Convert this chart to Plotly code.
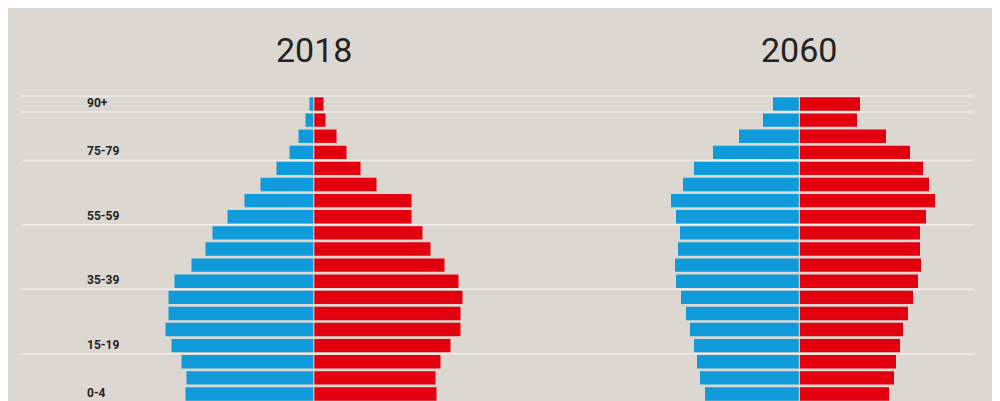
import plotly.graph_objects as go

# Age groups, bottom to top
ages = ["0-4", "5-9", "10-14", "15-19", "20-24", "25-29", "30-34", "35-39", "40-44",
        "45-49", "50-54", "55-59", "60-64", "65-69", "70-74", "75-79", "80-84", "85-89", "90+"]
labeled_ages = ["0-4", "15-19", "35-39", "55-59", "75-79", "90+"]
years = ["2018", "2060"]

# Values read top (90+) to bottom (0-4), then reversed to match ages
male_2018 = [4, 8, 15, 24, 37, 53, 69, 86, 101, 108, 122, 139, 145, 145, 148, 142, 132, 127, 128][::-1]
female_2018 = [10, 12, 23, 33, 47, 63, 98, 98, 109, 117, 131, 145, 149, 147, 147, 137, 127, 122, 123][::-1]
male_2060 = [26, 36, 60, 86, 105, 116, 128, 123, 119, 121, 124, 123, 118, 113, 109, 105, 102, 99, 94][::-1]
female_2060 = [61, 58, 87, 111, 124, 130, 136, 127, 121, 121, 122, 119, 114, 109, 104, 101, 97, 95, 90][::-1]

BLUE = "#0f9ad9"
RED = "#e2000f"
BG = "#dcd8d1"
GRID = "#f1eee8"

W, H = 1000, 393  # page body has an 8px margin; extra width is clipped at the window edge

fig = go.Figure()
for xa, m, f in [("x", male_2018, female_2018), ("x2", male_2060, female_2060)]:
    fig.add_trace(go.Bar(y=ages, x=[-v for v in m], orientation="h", marker_color=BLUE,
                         marker_line_width=0, xaxis=xa, yaxis="y", showlegend=False))
    fig.add_trace(go.Bar(y=ages, x=f, orientation="h", marker_color=RED,
                         marker_line_width=0, xaxis=xa, yaxis="y", showlegend=False))

shapes = []
grid_pos = [ages.index(lab) - 0.5 for lab in labeled_ages if lab != "0-4"] + [len(ages) - 0.5]
for yv in grid_pos:
    shapes.append(dict(type="line", xref="paper", yref="y", x0=14 / W, x1=966 / W, y0=yv, y1=yv,
                       line=dict(color=GRID, width=1.5), layer="below"))
for xa in ["x", "x2"]:
    shapes.append(dict(type="line", xref=xa, yref="y", x0=0.3, x1=0.3, y0=-0.45, y1=18.45,
                       line=dict(color="#f0dcdc", width=1), layer="above"))

annotations = []
for lab in labeled_ages:
    annotations.append(dict(text=lab, xref="paper", yref="y", x=77 / W, y=ages.index(lab), yshift=1,
                            xanchor="left", yanchor="middle", showarrow=False,
                            font=dict(family="Roboto, sans-serif", size=12, color="#222222",
                                      weight="bold")))
for yr, cx in zip(years, [305.5, 791]):
    annotations.append(dict(text=yr, xref="paper", yref="paper", x=cx / W, y=1 - 42 / H,
                            xanchor="center", yanchor="middle", showarrow=False,
                            font=dict(family="Roboto, sans-serif", size=34, color="#222222")))

fig.update_layout(
    width=W, height=H, margin=dict(l=0, r=0, t=0, b=0),
    paper_bgcolor=BG, plot_bgcolor="rgba(0,0,0,0)",
    barmode="relative", bargap=0.17,
    xaxis=dict(domain=[0, 546 / W], range=[-305.5, 240.5], visible=False, fixedrange=True),
    xaxis2=dict(domain=[546 / W, 1], range=[-245, W - 791], visible=False, fixedrange=True, anchor="y"),
    yaxis=dict(type="category", categoryarray=ages, range=[-0.4345, 23.958], visible=False,
               fixedrange=True, anchor="x"),
    shapes=shapes, annotations=annotations,
)

fig.write_html("out.html", post_script="document.body.style.overflow='hidden';")
